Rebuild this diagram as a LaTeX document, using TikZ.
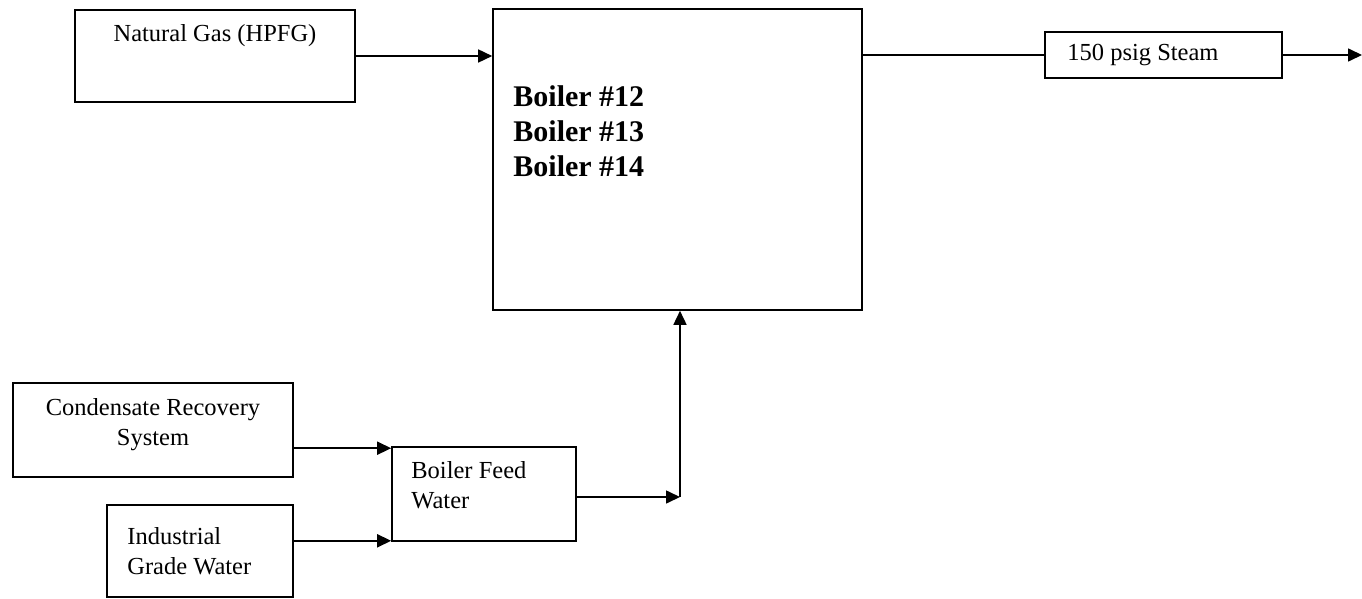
\documentclass[tikz,border=0pt]{standalone}
\usepackage{fontspec}
\setmainfont{Liberation Serif}
\usetikzlibrary{arrows.meta}

\begin{document}
\begin{tikzpicture}[
        x=1pt, y=-1pt,
        font=\fontsize{24.5}{30}\selectfont,
        unit/.style={rectangle, draw=black, line width=1.6pt, inner sep=0pt},
        tag/.style={inner sep=0pt, align=left},
        boldtag/.style={inner sep=0pt, align=left, font=\fontsize{30}{35}\selectfont\bfseries},
        arrow/.style={line width=1.6pt, -{Triangle[length=14pt, width=13pt]}},
        pipe/.style={line width=1.6pt}
    ]
        \useasboundingbox (0,0) rectangle (1362,599);

        % --- Boilers ---
        \node (boiler) [unit, minimum width=369pt, minimum height=301pt,
            label={[boldtag, anchor=west, xshift=21pt, yshift=28pt]west:Boiler \#12\\Boiler \#13\\Boiler \#14}
        ] at (677.5,159.5) {};

        % --- Fuel ---
        \node (gas) [unit, minimum width=280pt, minimum height=92pt,
            label={[tag, anchor=north, yshift=-15pt]north:Natural Gas (HPFG)}
        ] at (215,56) {};

        % --- Product ---
        \node (steam) [unit, minimum width=237pt, minimum height=46pt,
            label={[tag, anchor=west, xshift=23pt]west:150 psig Steam}
        ] at (1163.5,55) {};
        \coordinate (user) at (1362,55);

        % --- Water side ---
        \node (cond) [unit, minimum width=280pt, minimum height=94pt,
            label={[tag, align=center, yshift=5pt]center:Condensate Recovery\\System}
        ] at (153,430) {};
        \node (indw) [unit, minimum width=186pt, minimum height=92pt,
            label={[tag, anchor=west, xshift=21pt]west:Industrial\\Grade Water}
        ] at (200,551) {};
        \node (feed) [unit, minimum width=184pt, minimum height=94pt,
            label={[tag, anchor=west, xshift=20pt, yshift=9pt]west:Boiler Feed\\Water}
        ] at (484,494) {};
        \coordinate (tee) at (680,497);

        % --- Connections ---
        \draw [arrow] (gas.east) -- (gas.east -| boiler.west);
        \draw [pipe] (steam.west -| boiler.east) -- (steam.west);
        \draw [arrow] (steam.east) -- (user);

        \draw [arrow] ([yshift=-2pt]feed.north west -| cond.east) -- ([yshift=-2pt]feed.north west);
        \draw [arrow] ([yshift=1pt]feed.south west -| indw.east) -- ([yshift=1pt]feed.south west);
        \draw [arrow] (tee -| feed.east) -- (tee);
        \draw [arrow] (tee) -- (tee |- boiler.south);

\end{tikzpicture}
\end{document}
